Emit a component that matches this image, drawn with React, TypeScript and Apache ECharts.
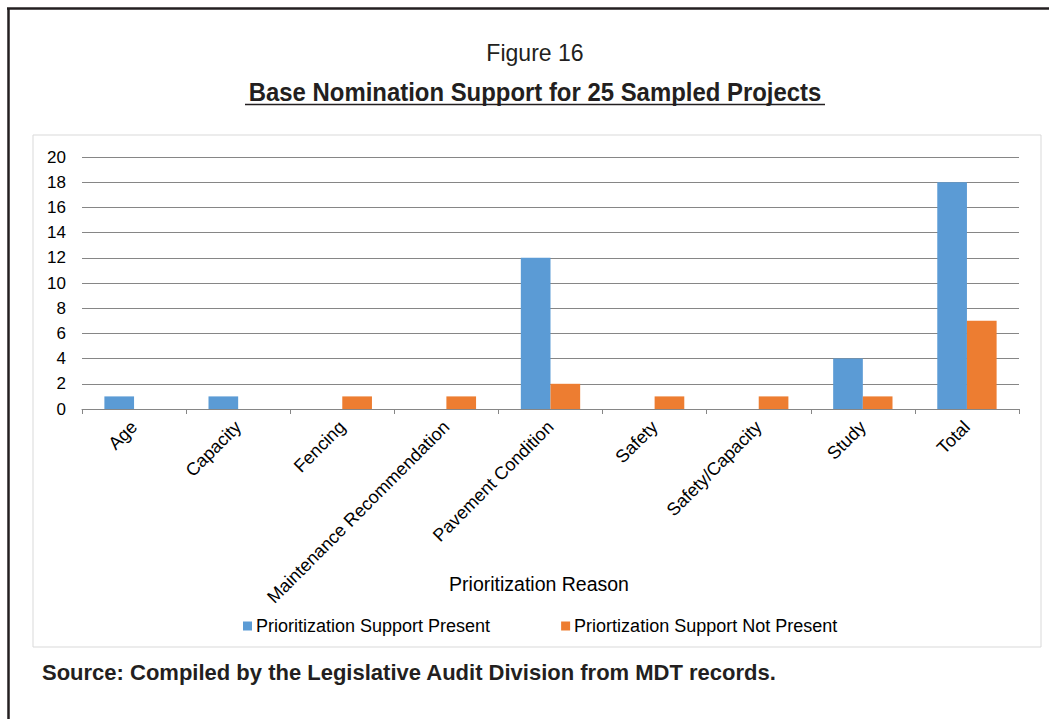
import React, { useEffect, useRef } from "react";
import * as echarts from "echarts";

const categories = [
  "Age",
  "Capacity",
  "Fencing",
  "Maintenance Recommendation",
  "Pavement Condition",
  "Safety",
  "Safety/Capacity",
  "Study",
  "Total",
];
const supportPresent = [1, 1, 0, 0, 12, 0, 0, 4, 18];
const supportNotPresent = [0, 0, 1, 1, 2, 1, 1, 1, 7];
const seriesNames = ["Prioritization Support Present", "Priortization Support Not Present"];
const colors = ["#5b9bd5", "#ed7d31"];

const SANS = "'Liberation Sans', Arial, sans-serif";

export default function App() {
  const ref = useRef<HTMLDivElement>(null);
  useEffect(() => {
    document.body.style.margin = "0";
    const chart = echarts.init(ref.current!, null, { renderer: "svg" });
    chart.setOption({
      animation: false,
      backgroundColor: "#ffffff",
      graphic: [
        { type: "rect", z: -10, shape: { x: 33, y: 135, width: 1008, height: 512 }, style: { fill: "#fff", stroke: "#d9d9d9", lineWidth: 1 } },
        { type: "line", shape: { x1: 8.5, y1: 8, x2: 8.5, y2: 719 }, style: { stroke: "#231f20", lineWidth: 2.5 } },
        { type: "line", shape: { x1: 7, y1: 8.5, x2: 1049, y2: 8.5 }, style: { stroke: "#231f20", lineWidth: 2.5 } },
        { type: "text", x: 535, y: 53, scaleX: 0.96, style: { text: "Figure 16", font: `24px ${SANS}`, fill: "#231f20", align: "center", verticalAlign: "middle" } },
        { type: "text", x: 535, y: 92, scaleX: 0.92, style: { text: "Base Nomination Support for 25 Sampled Projects", font: `bold 26px ${SANS}`, fill: "#231f20", align: "center", verticalAlign: "middle" } },
        { type: "line", shape: { x1: 245, y1: 104.5, x2: 825, y2: 104.5 }, style: { stroke: "#231f20", lineWidth: 1.5 } },
        { type: "text", x: 539, y: 584, style: { text: "Prioritization Reason", font: `19.5px ${SANS}`, fill: "#000", align: "center", verticalAlign: "middle" } },
        { type: "text", x: 42, y: 672, style: { text: "Source: Compiled by the Legislative Audit Division from MDT records.", font: `bold 22px ${SANS}`, fill: "#231f20", align: "left", verticalAlign: "middle" } },
      ],
      legend: {
        left: 243,
        top: 617,
        padding: 0,
        icon: "rect",
        itemWidth: 9,
        itemHeight: 9,
        itemGap: 71,
        textStyle: { fontFamily: SANS, fontSize: 18, color: "#000", padding: [0, 0, 0, -1] },
        data: seriesNames,
      },
      grid: { left: 82, right: 30, top: 157, bottom: 310 },
      xAxis: {
        type: "category",
        data: categories,
        axisLine: { lineStyle: { color: "#868686", width: 1 } },
        axisTick: { show: true, length: 5, alignWithLabel: false, lineStyle: { color: "#868686" } },
        axisLabel: { rotate: 45, fontFamily: SANS, fontSize: 18, color: "#000", margin: 15, interval: 0 },
      },
      yAxis: {
        type: "value",
        min: 0,
        max: 20,
        interval: 2,
        axisLine: { show: false },
        axisTick: { show: false },
        axisLabel: { fontFamily: SANS, fontSize: 17, color: "#000", margin: 16 },
        splitLine: { lineStyle: { color: "#868686", width: 1 } },
      },
      series: [
        { name: seriesNames[0], type: "bar", data: supportPresent, itemStyle: { color: colors[0] }, barGap: "0%", barCategoryGap: "43%" },
        { name: seriesNames[1], type: "bar", data: supportNotPresent, itemStyle: { color: colors[1] }, barGap: "0%", barCategoryGap: "43%" },
      ],
    });
    return () => chart.dispose();
  }, []);
  return <div ref={ref} style={{ position: "absolute", left: 0, top: 0, width: 1049, height: 719 }} />;
}
